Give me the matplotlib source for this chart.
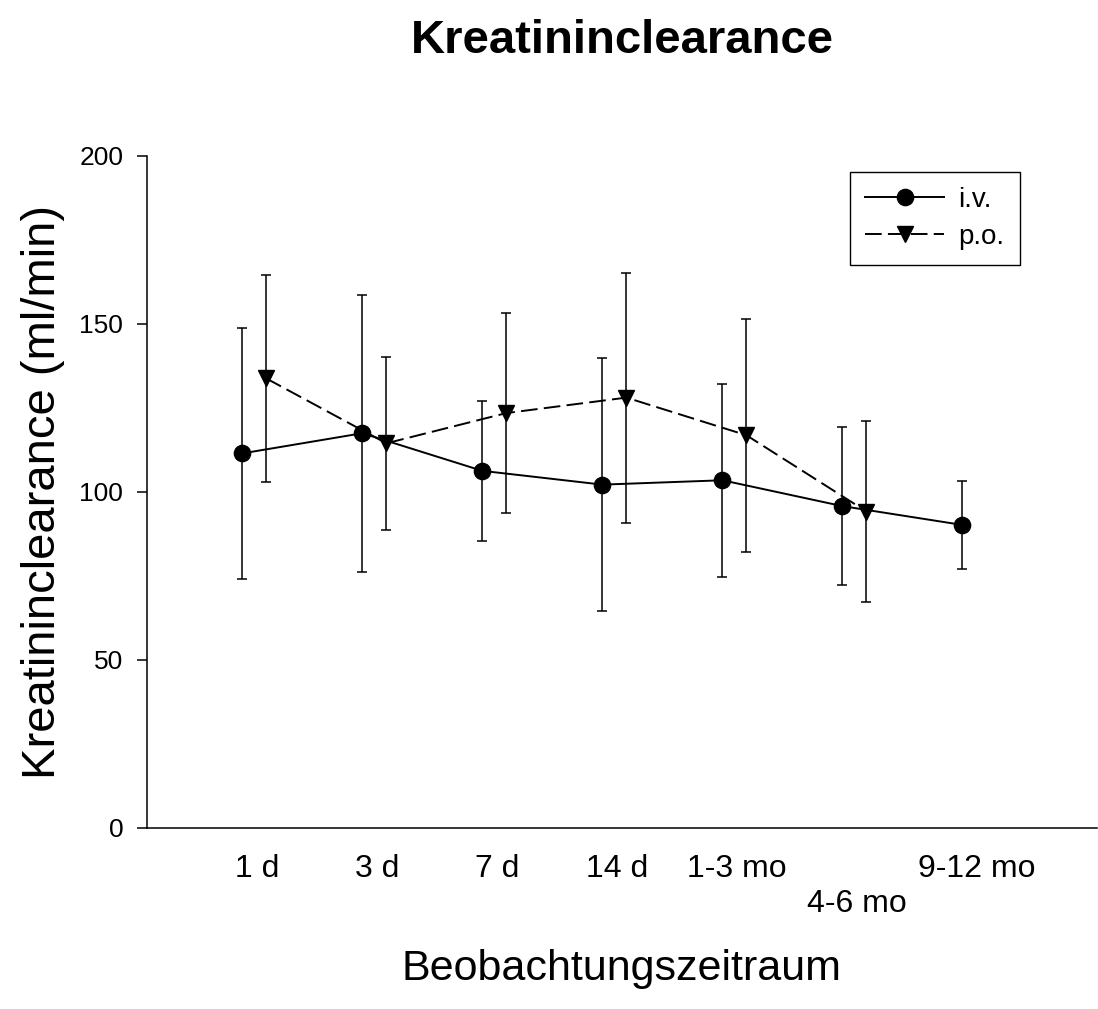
import numpy as np
import matplotlib.pyplot as plt
from matplotlib.lines import Line2D

plt.rcParams['font.family'] = ['Liberation Sans', 'DejaVu Sans']
plt.rcParams['lines.scale_dashes'] = False

periods = ['1 d', '3 d', '7 d', '14 d', '1-3 mo', '\n4-6 mo', '9-12 mo']

iv_mean = [111.4, 117.4, 106.2, 102.1, 103.4, 95.7, 90.1]
iv_sd = [37.4, 41.2, 20.8, 37.6, 28.7, 23.6, 13.2]

po_mean = [133.7, 114.4, 123.4, 128.0, 116.8, 94.1]
po_sd = [30.9, 25.8, 29.8, 37.2, 34.7, 26.8]

x_iv = np.arange(len(iv_mean))
x_po = np.arange(len(po_mean)) + 0.2
dash = (12, 4.5)

fig = plt.figure(figsize=(10.98, 10.09), dpi=100)
ax = fig.add_axes([0.1339, 0.1797, 0.8651, 0.666])

err_kw = dict(ecolor='black', elinewidth=1.1, capsize=3.8, capthick=1.1)
ax.errorbar(x_iv, iv_mean, yerr=iv_sd, color='black', lw=1.4, marker='o',
            ms=11.7, **err_kw)
ax.errorbar(x_po, po_mean, yerr=po_sd, color='black', lw=1.4, marker='v',
            ms=12, dashes=dash, **err_kw)

ax.set_xlim(-0.794, 7.12)
ax.set_ylim(0, 200)
ax.set_yticks([0, 50, 100, 150, 200])
ax.set_xticks(np.arange(len(periods)) + 0.12)
ax.set_xticklabels(periods, fontsize=23)
ax.tick_params(axis='x', length=0, pad=19)
ax.tick_params(axis='y', length=7.2, width=1.1, labelsize=19, pad=10)

for s in ['top', 'right']:
    ax.spines[s].set_visible(False)
for s in ['left', 'bottom']:
    ax.spines[s].set_linewidth(1.1)

ax.set_title('Kreatininclearance', fontsize=34, fontweight='bold', pad=74)
ax.set_ylabel('Kreatininclearance (ml/min)', fontsize=34, labelpad=10)
ax.set_xlabel('Beobachtungszeitraum', fontsize=31, labelpad=22)

handles = [
    Line2D([], [], color='black', lw=1.4, marker='o', ms=11.7),
    Line2D([], [], color='black', lw=1.4, marker='v', ms=12, dashes=dash),
]
leg = ax.legend(handles, ['i.v.', 'p.o.'], loc='upper left',
                bbox_to_anchor=(850 / 1098, 1 - 171.7 / 1009),
                bbox_transform=fig.transFigure, fontsize=20, frameon=True,
                fancybox=False, edgecolor='black', framealpha=1,
                handlelength=2.85, handletextpad=0.5, labelspacing=0.38,
                borderpad=0.55, borderaxespad=0)
leg.get_frame().set_linewidth(1.0)

fig.savefig('out.png', dpi=100)
